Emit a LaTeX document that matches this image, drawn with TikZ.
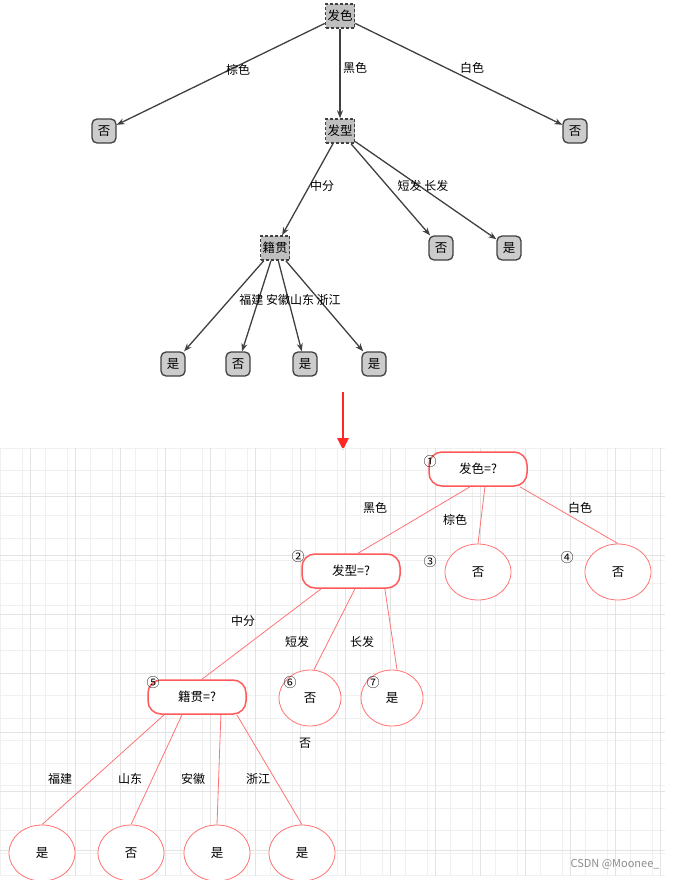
\documentclass[tikz,border=0pt]{standalone}
\usepackage{fontspec}
\setmainfont{Noto Sans CJK SC}
\usetikzlibrary{calc,arrows.meta,shapes.geometric}
\begin{document}
\begin{tikzpicture}[x=1pt,y=-1pt,font=\fontsize{11}{13}\selectfont,
 inner/.style={draw=black!75,densely dashed,line width=1.5pt,fill=black!25,inner sep=2pt,minimum height=24pt,font=\fontsize{12.5}{14}\selectfont},
 leaf/.style={draw=black!75,line width=1.3pt,fill=black!20,rounded corners=5pt,inner sep=2pt,minimum width=24pt,minimum height=24pt,font=\fontsize{12.5}{14}\selectfont},
 garr/.style={-{Stealth[length=8pt,width=6pt]},black!75,line width=1.3pt},
 q/.style={draw=red!65,line width=1.5pt,rounded corners=13pt,minimum width=98pt,minimum height=34pt,font=\fontsize{12.5}{14}\selectfont},
 ell/.style={draw=red!55,line width=0.8pt,ellipse,minimum width=66pt,minimum height=56pt,font=\fontsize{12.5}{14}\selectfont},
 rl/.style={draw=red!55,line width=0.8pt},
 lab/.style={font=\fontsize{12}{14}\selectfont},
 num/.style={font=\fontsize{13}{15}\selectfont}]
\useasboundingbox (0,0) rectangle (684,880);
% top tree
\node[inner] (a) at (340,16) {发色};
\node[leaf] (b) at (104,131) {否};
\node[inner] (c) at (340,131) {发型};
\node[leaf] (d) at (575,131) {否};
\node[inner] (e) at (275,248) {籍贯};
\node[leaf] (f) at (441,248) {否};
\node[leaf] (g) at (509,248) {是};
\node[leaf] (h1) at (173,364) {是};
\node[leaf] (h2) at (238,364) {否};
\node[leaf] (h3) at (305,364) {是};
\node[leaf] (h4) at (374,364) {是};
\draw[garr] (a) -- (b);
\draw[garr] (a) -- (c);
\draw[garr] (a) -- (d);
\draw[garr] (c) -- (e);
\draw[garr] (c) -- (f);
\draw[garr] (c) -- (g);
\foreach \t in {h1,h2,h3,h4} \draw[garr] (e) -- (\t);
\node[lab] (l1) at (238,70) {棕色};
\node[lab] (l2) at (355,68) {黑色};
\node[lab] (l3) at (472,68) {白色};
\node[lab] (l4) at (322,186) {中分};
\node[lab] (l5) at (423,186) {短发 长发};
\node[lab] (l6) at (290,300) {福建 安徽山东 浙江};
% red arrow
\coordinate (ra) at (343,392);
\coordinate (rb) at (343,450);
\draw[red!85,line width=2.5pt,-{Triangle[length=12pt,width=11pt]}] (ra) -- (rb);
% grid
\foreach \i in {0,...,29} \draw[black!6,line width=0.5pt] (\i*22.5,448) -- (\i*22.5,876);
\foreach \i in {0,...,19} \draw[black!6,line width=0.5pt] (0,448+\i*22.5) -- (665,448+\i*22.5);
\foreach \i in {0,...,14} \draw[black!11,line width=0.6pt] (\i*45+30,448) -- (\i*45+30,876);
\foreach \i in {0,...,7} \draw[black!11,line width=0.6pt] (0,496+\i*59) -- (665,496+\i*59);
% bottom tree
\node[q,fill=white] (A) at (478,469) {发色=?};
\node[ell,fill=white] (B) at (478,572) {否};
\node[ell,fill=white] (D) at (618,572) {否};
\node[q,fill=white] (C) at (351,571) {发型=?};
\node[q,fill=white] (E) at (197,697) {籍贯=?};
\node[ell,minimum width=62pt,minimum height=56pt,fill=white] (F) at (310,698) {否};
\node[ell,minimum width=62pt,minimum height=56pt,fill=white] (G) at (392,698) {是};
\node[ell,fill=white] (H1) at (42,853) {是};
\node[ell,fill=white] (H2) at (131,853) {否};
\node[ell,fill=white] (H3) at (217,853) {是};
\node[ell,fill=white] (H4) at (302,853) {是};
\draw[rl] ($(A.south west)!.42!(A.south east)$) -- ($(C.north west)!.57!(C.north east)$);
\draw[rl] ($(A.south west)!.57!(A.south east)$) -- (B.north);
\draw[rl] ($(A.south west)!.92!(A.south east)$) -- (D.north);
\draw[rl] ($(C.south west)!.2!(C.south east)$) -- ($(E.north west)!.55!(E.north east)$);
\draw[rl] ($(C.south west)!.54!(C.south east)$) -- ($(F.north)+(4,0)$);
\draw[rl] ($(C.south west)!.84!(C.south east)$) -- ($(G.north)+(5,0)$);
\draw[rl] ($(E.south west)!.17!(E.south east)$) -- (H1.north);
\draw[rl] ($(E.south west)!.35!(E.south east)$) -- (H2.north);
\draw[rl] ($(E.south west)!.74!(E.south east)$) -- (H3.north);
\draw[rl] ($(E.south west)!.9!(E.south east)$) -- (H4.north);
\node[num] (n1) at (430,462) {①};
\node[num] (n2) at (298,557) {②};
\node[num] (n3) at (430,562) {③};
\node[num] (n4) at (567,558) {④};
\node[num] (n5) at (153,683) {⑤};
\node[num] (n6) at (290,683) {⑥};
\node[num] (n7) at (373,683) {⑦};
\node[lab] (m1) at (375,508) {黑色};
\node[lab] (m2) at (455,520) {棕色};
\node[lab] (m3) at (580,508) {白色};
\node[lab] (m4) at (243,621) {中分};
\node[lab] (m5) at (297,642) {短发};
\node[lab] (m6) at (362,642) {长发};
\node[lab] (m7) at (305,743) {否};
\node[lab] (m8) at (60,779) {福建};
\node[lab] (m9) at (130,779) {山东};
\node[lab] (m10) at (193,779) {安徽};
\node[lab] (m11) at (258,779) {浙江};
\node[black!45,font=\fontsize{11}{13}\selectfont] (w) at (615,864) {CSDN @Moonee\_};
\end{tikzpicture}
\end{document}
